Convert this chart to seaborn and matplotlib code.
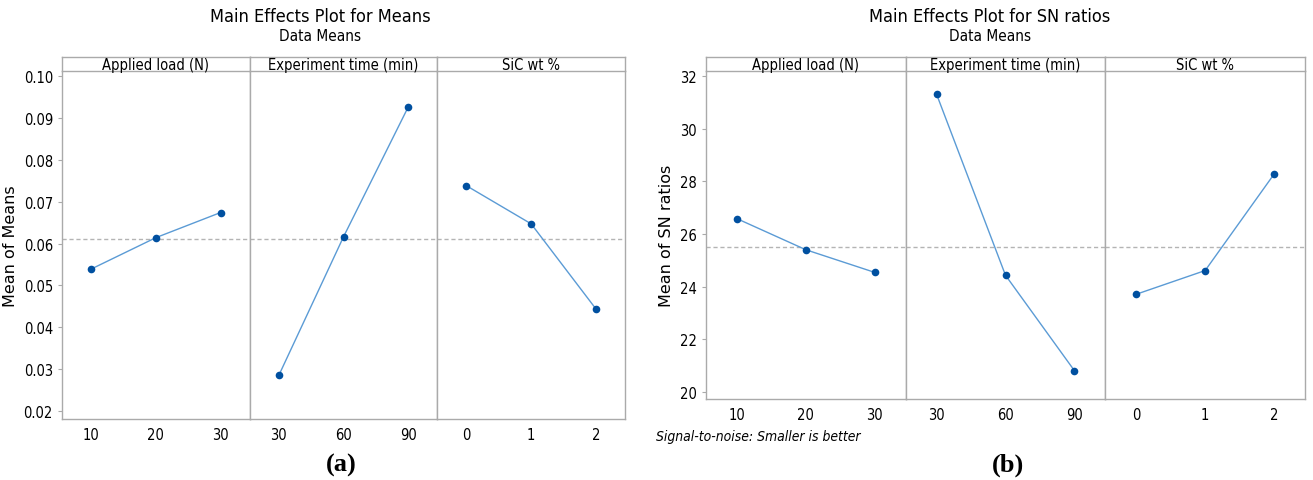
import pandas as pd
import numpy as np
import seaborn as sns
import matplotlib.pyplot as plt

factors = ["Applied load (N)", "Experiment time (min)", "SiC wt %"]
levels = [["10", "20", "30"], ["30", "60", "90"], ["0", "1", "2"]]

means = [[0.0539, 0.0614, 0.0674],
         [0.0285, 0.0616, 0.0926],
         [0.0738, 0.0647, 0.0444]]
means_ref = 0.0610

sn = [[26.58, 25.40, 24.54],
      [31.30, 24.43, 20.81],
      [23.71, 24.61, 28.27]]
sn_ref = 25.51

sns.set_style("white")
plt.rcParams["font.family"] = ["DejaVu Sans"]
plt.rcParams["font.stretch"] = "condensed"
plt.rcParams["text.color"] = "black"
plt.rcParams["xtick.color"] = "black"
plt.rcParams["ytick.color"] = "black"
plt.rcParams["axes.labelcolor"] = "black"

line_col = "#5b9bd5"
dot_col = "#0050a0"
frame_col = "#aaaaaa"

W, H = 1313, 481
fig = plt.figure(figsize=(W / 100, H / 100), dpi=100)


def panel(x0, x1, ytop, ybot, vals, ref, ylim, yticks, ylabel, fmt):
    n = len(factors)
    pw = (x1 - x0) / n
    axes = []
    for i in range(n):
        left = (x0 + i * pw) / W
        ax = fig.add_axes([left, 1 - ybot / H, pw / W, (ybot - ytop) / H])
        df = pd.DataFrame({"level": levels[i], "value": vals[i]})
        sns.pointplot(data=df, x="level", y="value", order=levels[i], ax=ax,
                      color=line_col, markers="o", markersize=5.5, linewidth=1,
                      markeredgewidth=0)
        # recolour the markers
        for ln in ax.lines:
            ln.set_markerfacecolor(dot_col)
            ln.set_markeredgecolor(dot_col)
        ax.axhline(ref, color="#b4b4b4", ls=(0, (3, 2)), lw=1, zorder=0)
        ax.set_xlim(-0.45, 2.45)
        ax.set_ylim(*ylim)
        ax.set_xlabel("")
        ax.set_ylabel("")
        for s in ax.spines.values():
            s.set_color(frame_col)
            s.set_linewidth(1)
        ax.spines["top"].set_visible(False)
        ax.tick_params(axis="x", length=0, labelsize=10.5, pad=6)
        if i == 0:
            ax.set_yticks(yticks)
            ax.set_yticklabels([fmt.format(v) for v in yticks])
            ax.tick_params(axis="y", length=3, color=frame_col, labelsize=10.5, left=True)
            ax.set_ylabel(ylabel, fontsize=11.5, stretch="normal")
        else:
            ax.set_yticks([])
        # strip header
        sax = fig.add_axes([left, 1 - ybot / H + (ybot - ytop) / H, pw / W, 14 / H])
        sax.set_xticks([])
        sax.set_yticks([])
        for s in sax.spines.values():
            s.set_color(frame_col)
            s.set_linewidth(1)
        sax.text(0.5, 0.45, factors[i], ha="center", va="center", fontsize=10.5,
                 transform=sax.transAxes)
        axes.append(ax)
    return axes


panel(62, 625, 72, 420, means, means_ref, (0.0181, 0.1012),
      [0.02, 0.03, 0.04, 0.05, 0.06, 0.07, 0.08, 0.09, 0.10],
      "Mean of Means", "{:.2f}")
panel(706, 1305, 72, 400, sn, sn_ref, (19.73, 32.19),
      [20, 22, 24, 26, 28, 30, 32], "Mean of SN ratios", "{:.0f}")

fig.text(320 / W, 1 - 17 / H, "Main Effects Plot for Means", ha="center", va="center", fontsize=13)
fig.text(320 / W, 1 - 37 / H, "Data Means", ha="center", va="center", fontsize=11)
fig.text(990 / W, 1 - 17 / H, "Main Effects Plot for SN ratios", ha="center", va="center", fontsize=13)
fig.text(990 / W, 1 - 37 / H, "Data Means", ha="center", va="center", fontsize=11)
fig.text(656 / W, 1 - 437 / H, "Signal-to-noise: Smaller is better", ha="left", va="center",
         fontsize=10, style="italic")
fig.text(341 / W, 1 - 465 / H, "(a)", ha="center", va="center", fontsize=19,
         family="Liberation Serif", stretch="normal", weight="bold")
fig.text(1008 / W, 1 - 465 / H, "(b)", ha="center", va="center", fontsize=19,
         family="Liberation Serif", stretch="normal", weight="bold")

fig.savefig("out.png", dpi=100)
